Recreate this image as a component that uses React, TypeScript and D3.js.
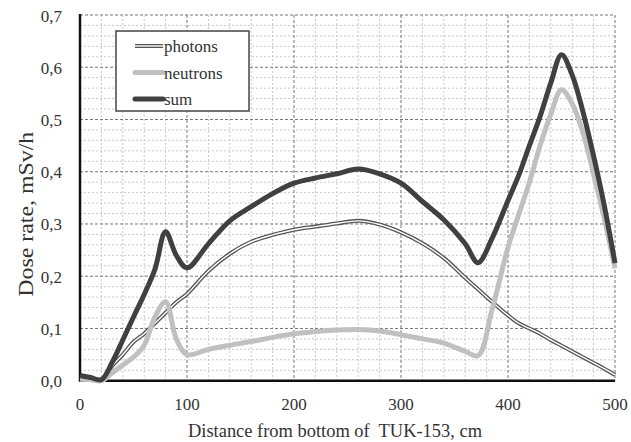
import React from "react";
import * as d3 from "d3";

// distance from bottom of TUK-153, cm
const distance = [
  0, 10, 20, 30, 40, 50, 60, 70, 80, 90, 100,
  120, 140, 160, 180, 200, 220, 240, 260, 280, 300, 320, 340, 360,
  372, 385,
  400, 410, 420, 430, 440, 450, 460, 470, 480, 490, 500
];

const photons = [
  0.005, 0.003, 0.0, 0.028, 0.05, 0.074, 0.09, 0.11, 0.13, 0.15, 0.166,
  0.21, 0.243, 0.266, 0.279, 0.289, 0.295, 0.301, 0.306, 0.299, 0.284, 0.263, 0.235, 0.197,
  0.175, 0.151,
  0.125, 0.11, 0.1, 0.09, 0.078, 0.067, 0.056, 0.045, 0.034, 0.023, 0.011
];

const neutrons = [
  0.003, 0.002, 0.0, 0.015, 0.03, 0.045, 0.068, 0.122, 0.151, 0.08, 0.05,
  0.06, 0.068, 0.075, 0.083, 0.09, 0.094, 0.097, 0.098, 0.095, 0.088, 0.08, 0.072, 0.056,
  0.048, 0.135,
  0.255, 0.318, 0.38, 0.45, 0.51, 0.557, 0.53, 0.475, 0.395, 0.31, 0.215
];

const sum = [
  0.01, 0.006, 0.002, 0.035, 0.078, 0.122, 0.165, 0.213, 0.285, 0.24, 0.216,
  0.262, 0.306, 0.333, 0.358, 0.378, 0.388, 0.396, 0.405, 0.396, 0.378, 0.343, 0.308, 0.262,
  0.226, 0.272,
  0.345, 0.393, 0.45, 0.506, 0.57, 0.624, 0.585, 0.515, 0.43, 0.335, 0.225
];

const xTicks = [0, 100, 200, 300, 400, 500];
const yTicks = [0, 0.1, 0.2, 0.3, 0.4, 0.5, 0.6, 0.7];
const legendItems = ["photons", "neutrons", "sum"];

const width = 631;
const height = 442;
const margin = { left: 80, right: 16, top: 15, bottom: 61.3 };
const font = "'Liberation Serif', serif";

const x = d3.scaleLinear().domain([0, 500]).range([margin.left, width - margin.right]);
const y = d3.scaleLinear().domain([0, 0.7]).range([height - margin.bottom, margin.top]);

function linePath(values: number[]) {
  const line = d3
    .line<number>()
    .x((d, i) => x(distance[i]))
    .y(d => y(d))
    .curve(d3.curveCatmullRom.alpha(0.5));
  return line(values) || "";
}

const minorX = d3.range(0, 501, 20).filter(v => v % 100 !== 0);
const minorY = d3.range(0, 71, 2).filter(v => v % 10 !== 0).map(v => v / 100);

export default function App() {
  const [x0, x1] = x.range();
  const [y0, y1] = y.range();
  const fmt = (v: number) => v.toFixed(1).replace(".", ",");

  return (
    <svg
      width={width}
      height={height}
      fontFamily={font}
      style={{ position: "absolute", left: 0, top: 0, background: "#fff" }}
    >
      <rect width={width} height={height} fill="#fff" />
      {/* minor grid */}
      <g stroke="#c8c8c8" strokeWidth={1} strokeDasharray="2,2">
        {minorX.map(v => (
          <line key={"mx" + v} x1={x(v)} x2={x(v)} y1={y1} y2={y0} />
        ))}
        {minorY.map(v => (
          <line key={"my" + v} x1={x0} x2={x1} y1={y(v)} y2={y(v)} />
        ))}
      </g>
      {/* major grid */}
      <g stroke="#777" strokeWidth={1} strokeDasharray="3,2">
        {xTicks.slice(1).map(v => (
          <line key={"gx" + v} x1={x(v)} x2={x(v)} y1={y1} y2={y0} />
        ))}
        {yTicks.slice(1).map(v => (
          <line key={"gy" + v} x1={x0} x2={x1} y1={y(v)} y2={y(v)} />
        ))}
      </g>
      {/* axes */}
      <line x1={x0} x2={x0} y1={y1 - 1} y2={y0 + 1} stroke="#111" strokeWidth={2.5} />
      <line x1={x0} x2={x1} y1={y0} y2={y0} stroke="#111" strokeWidth={2.5} />

      {/* tick labels */}
      {yTicks.map(v => (
        <text key={"yl" + v} x={62} y={y(v) + 6.5} textAnchor="end" fontSize={17} fill="#333">
          {fmt(v)}
        </text>
      ))}
      {xTicks.map(v => (
        <text key={"xl" + v} x={x(v)} y={410} textAnchor="middle" fontSize={17} fill="#333">
          {v}
        </text>
      ))}

      {/* series */}
      <path d={linePath(photons)} fill="none" stroke="#555" strokeWidth={4} />
      <path d={linePath(photons)} fill="none" stroke="#fff" strokeWidth={1.4} />
      <path d={linePath(neutrons)} fill="none" stroke="#c0c0c0" strokeWidth={5} strokeLinejoin="round" />
      <path d={linePath(sum)} fill="none" stroke="#404040" strokeWidth={5} strokeLinejoin="round" />

      {/* axis titles */}
      <text
        x={188}
        y={436.5}
        fontSize={18}
        fill="#333"
        textLength={294}
        lengthAdjust="spacingAndGlyphs"
        style={{ whiteSpace: "pre" }}
      >
        {"Distance from bottom of  TUK-153, cm"}
      </text>
      <text
        transform={`translate(32.5, ${(131.7 + 296.7) / 2}) rotate(-90)`}
        textAnchor="middle"
        fontSize={21}
        fill="#333"
        textLength={165}
        lengthAdjust="spacingAndGlyphs"
      >
        Dose rate, mSv/h
      </text>

      {/* legend */}
      <rect x={116} y={31} width={133} height={80} fill="#fff" stroke="#444" strokeWidth={1.5} />
      {legendItems.map((name, i) => {
        const ly = 46 + i * 26.5;
        return (
          <g key={name}>
            {name === "photons" ? (
              <>
                <line x1={135} x2={163} y1={ly} y2={ly} stroke="#555" strokeWidth={4} />
                <line x1={135} x2={163} y1={ly} y2={ly} stroke="#fff" strokeWidth={1.4} />
              </>
            ) : (
              <line
                x1={135}
                x2={163}
                y1={ly}
                y2={ly}
                stroke={name === "sum" ? "#404040" : "#c0c0c0"}
                strokeWidth={5}
                strokeLinecap="round"
              />
            )}
            <text x={164} y={ly + 6} fontSize={17} fill="#333">
              {name}
            </text>
          </g>
        );
      })}
    </svg>
  );
}
